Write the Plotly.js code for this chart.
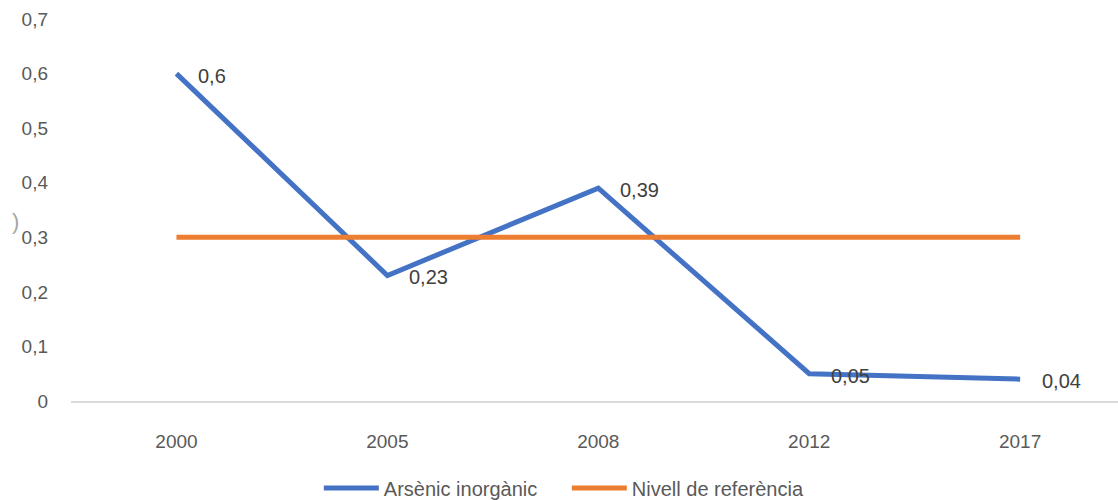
<!DOCTYPE html>
<html><head><meta charset="utf-8">
<script src="https://cdn.plot.ly/plotly-3.0.1.min.js"></script>
<style>body{margin:0;background:#fff}#chart{width:1118px;height:500px}</style>
</head><body><div id="chart"></div>
<script>
const years = ['2000','2005','2008','2012','2017'];
const arsenic = [0.6, 0.23, 0.39, 0.05, 0.04];
const reference = [0.3, 0.3, 0.3, 0.3, 0.3];
const arsenicLabels = ['0,6','0,23','0,39','0,05','0,04'];
const yTickVals = [0,0.1,0.2,0.3,0.4,0.5,0.6,0.7];
const yTickText = ['0','0,1','0,2','0,3','0,4','0,5','0,6','0,7'];

const font = 'Liberation Sans, Arial, sans-serif';
const traces = [
  {x: years, y: arsenic, type:'scatter', mode:'lines', name:'Arsènic inorgànic',
   line:{color:'#4472C4', width:5}, cliponaxis:false},
  {x: years, y: reference, type:'scatter', mode:'lines', name:'Nivell de referència',
   line:{color:'#ED7D31', width:5}, cliponaxis:false}
];
const labelAnns = years.map((yr, i) => ({
  x: i, y: arsenic[i], xref:'x', yref:'y', text: arsenicLabels[i], showarrow:false,
  xanchor:'left', yanchor:'middle', xshift: 20, yshift: -2,
  font:{family:font, size:20, color:'#404040'}
}));
const layout = {
  width:1118, height:500,
  margin:{l:70.5, r:0, t:19, b:99, autoexpand:false},
  paper_bgcolor:'#fff', plot_bgcolor:'#fff',
  font:{family:font, size:19, color:'#595959'},
  showlegend:true,
  legend:{orientation:'h', xref:'container', yref:'container', x:0.507, xanchor:'center',
          y:0.024, yanchor:'middle', entrywidth:178,
          font:{family:font, size:20, color:'#595959'}, itemwidth:55, tracegroupgap:0},
  xaxis:{type:'category', range:[-0.5, 4.464], showgrid:false, zeroline:false,
         showline:true, linecolor:'#D9D9D9', linewidth:2, ticks:'', ticklabelstandoff:22,
         tickfont:{family:font, size:19, color:'#595959'}, fixedrange:true},
  yaxis:{range:[0,0.7], tickvals:yTickVals, ticktext:yTickText, showgrid:false,
         zeroline:false, showline:false, ticks:'', ticklabelstandoff:22,
         tickfont:{family:font, size:19, color:'#595959'}, fixedrange:true},
  annotations:[{text:')', xref:'paper', yref:'paper', x:-0.053, y:0.47, xanchor:'center',
                showarrow:false, font:{family:font, size:22, color:'#A6A6A6'}}].concat(labelAnns)
};
Plotly.newPlot('chart', traces, layout, {displayModeBar:false, staticPlot:true});
</script></body></html>
